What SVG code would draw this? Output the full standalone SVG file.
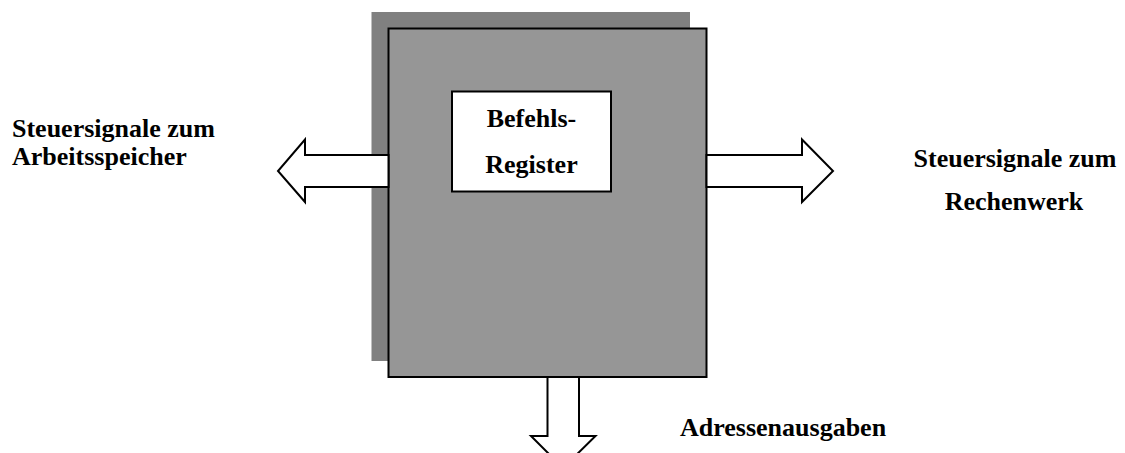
<svg xmlns="http://www.w3.org/2000/svg" width="1125" height="453" viewBox="0 0 1125 453">
<style>
text{font-family:"Liberation Serif","Times New Roman",serif;font-weight:bold;font-size:26px;fill:#000}
.arrow{fill:#fff;stroke:#000;stroke-width:2;stroke-linejoin:miter}
</style>
<rect width="1125" height="453" fill="#fff"/>
<g id="steuerwerk">
<rect x="371.5" y="12" width="318.5" height="349" fill="#808080"/>
<rect x="388.5" y="28.5" width="318" height="348.5" fill="#969696" stroke="#000" stroke-width="2"/>
</g>
<g id="befehlsregister">
<rect x="452" y="91.5" width="159" height="100" fill="#fff" stroke="#000" stroke-width="2"/>
<text x="531.5" y="127" text-anchor="middle">Befehls-</text>
<text x="531.5" y="173" text-anchor="middle">Register</text>
</g>
<g id="connectors">
<polygon class="arrow" points="388.5,155 305,155 305,139.5 278,171 305,202 305,187 388.5,187"/>
<polygon class="arrow" points="706.5,155 802,155 802,139.5 833,171 802,202 802,187 706.5,187"/>
<polygon class="arrow" points="547.5,377 547.5,436 531,436 563,468 595.5,436 579,436 579,377"/>
</g>
<g id="label-arbeitsspeicher">
<text x="12" y="137">Steuersignale zum</text>
<text x="12" y="165">Arbeitsspeicher</text>
</g>
<g id="label-rechenwerk">
<text x="1015" y="167" text-anchor="middle">Steuersignale zum</text>
<text x="1014" y="210" text-anchor="middle">Rechenwerk</text>
</g>
<g id="label-adressen">
<text x="680" y="436">Adressenausgaben</text>
</g>
</svg>
